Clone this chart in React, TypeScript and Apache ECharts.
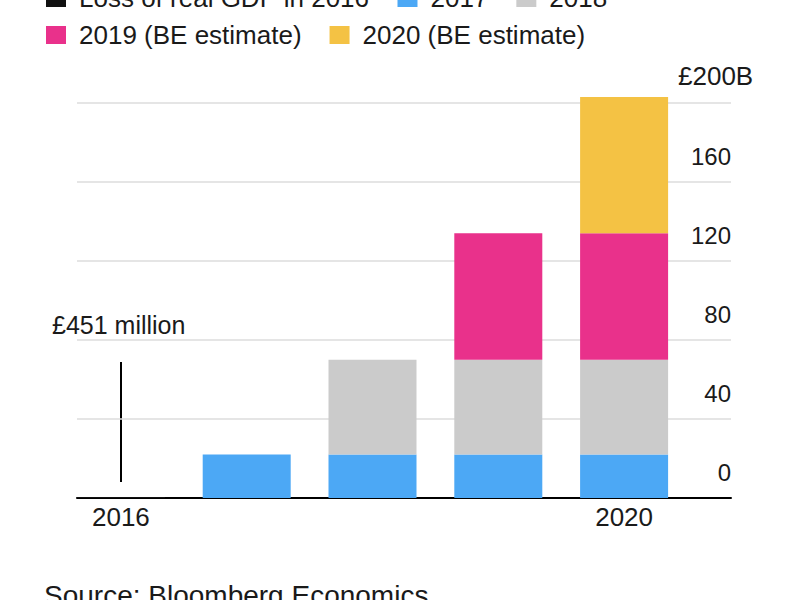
import React, { useEffect, useRef } from "react";
import * as echarts from "echarts";

const categories = ["2016", "2017", "2018", "2019", "2020"];
const shownCategoryLabels = ["2016", "2020"];
const loss2016 = [0.451, null, null, null, null];
const loss2017 = [null, 22, 22, 22, 22];
const loss2018 = [null, null, 48, 48, 48];
const loss2019 = [null, null, null, 64, 64];
const loss2020 = [null, null, null, null, 69];
const seriesNames = [
  "Loss of real GDP in 2016",
  "2017",
  "2018",
  "2019 (BE estimate)",
  "2020 (BE estimate)",
];
const seriesColors = ["#111111", "#4ca8f5", "#cbcbcb", "#e9318b", "#f4c244"];
const yTicks = { min: 0, max: 200, interval: 40 };
const annotationText = "£451 million";
const topTickLabel = "£200B";
const sourceText = "Source: Bloomberg Economics";

const FONT = "'Liberation Sans', Arial, Helvetica, sans-serif";
const TEXT = "#1a1a1a";

// plot geometry: value 0 at y=498, value 200 at y=103
const PLOT_TOP = 103;
const PLOT_BOTTOM = 102;
const PX_PER_UNIT = (600 - PLOT_BOTTOM - PLOT_TOP) / (yTicks.max - yTicks.min);
const BAR_AXIS_MAX = 220;

export default function App() {
  const ref = useRef<HTMLDivElement>(null);
  useEffect(() => {
    if (!ref.current) return;
    const chart = echarts.init(ref.current, null, { renderer: "svg" });
    const dataSets = [loss2016, loss2017, loss2018, loss2019, loss2020];
    const legendText = { fontSize: 26, color: TEXT, fontFamily: FONT, padding: [0, 0, 0, 8] };
    chart.setOption({
      animation: false,
      textStyle: { fontFamily: FONT },
      legend: [
        {
          data: seriesNames.slice(0, 3),
          left: 46,
          top: -15,
          padding: 0,
          itemWidth: 20,
          itemHeight: 18,
          itemGap: 28,
          icon: "rect",
          textStyle: legendText,
        },
        {
          data: seriesNames.slice(3),
          left: 46,
          top: 22,
          padding: 0,
          itemWidth: 20,
          itemHeight: 18,
          itemGap: 28,
          icon: "rect",
          textStyle: legendText,
        },
      ],
      grid: [
        {
          left: 58,
          right: 113,
          top: PLOT_TOP - (BAR_AXIS_MAX - yTicks.max) * PX_PER_UNIT,
          bottom: PLOT_BOTTOM,
        },
        { left: 77, right: 69, top: PLOT_TOP, bottom: PLOT_BOTTOM },
      ],
      xAxis: [
        {
          type: "category",
          gridIndex: 0,
          data: categories,
          axisLine: { show: false },
          axisTick: { show: false },
          axisLabel: {
            interval: 0,
            formatter: (v: string) => (shownCategoryLabels.includes(v) ? v : ""),
            fontSize: 26,
            color: TEXT,
            fontFamily: FONT,
            margin: 6,
          },
        },
        {
          type: "value",
          gridIndex: 1,
          min: 0,
          max: 1,
          axisLine: { show: true, onZero: false, lineStyle: { color: "#000", width: 2 } },
          axisTick: { show: false },
          axisLabel: { show: false },
          splitLine: { show: false },
        },
      ],
      yAxis: [
        {
          type: "value",
          gridIndex: 0,
          min: yTicks.min,
          max: BAR_AXIS_MAX,
          show: false,
          splitLine: { show: false },
        },
        {
          type: "value",
          gridIndex: 1,
          position: "right",
          min: yTicks.min,
          max: yTicks.max,
          interval: yTicks.interval,
          axisLine: { show: false },
          axisTick: { show: false },
          splitLine: { show: true, lineStyle: { color: "#dcdcdc", width: 1.5 } },
          axisLabel: {
            inside: true,
            margin: 0,
            align: "right",
            verticalAlign: "bottom",
            padding: [0, 0, 14, 0],
            fontSize: 24,
            color: TEXT,
            fontFamily: FONT,
            formatter: (v: number) => (v === yTicks.max ? "" : String(v)),
          },
        },
      ],
      series: dataSets.map((d, i) => ({
        name: seriesNames[i],
        type: "bar",
        stack: "total",
        xAxisIndex: 0,
        yAxisIndex: 0,
        barWidth: 88,
        itemStyle: { color: seriesColors[i] },
        data: d,
      })),
      graphic: [
        {
          type: "text",
          left: 678,
          top: 63,
          style: { text: topTickLabel, fill: TEXT, font: `26px ${FONT}` },
        },
        {
          type: "text",
          left: 52,
          top: 312,
          style: { text: annotationText, fill: TEXT, font: `25px ${FONT}` },
        },
        {
          type: "line",
          shape: { x1: 121, y1: 362, x2: 121, y2: 482 },
          style: { stroke: "#000", lineWidth: 2 },
        },
        {
          type: "text",
          left: 44,
          top: 581,
          style: { text: sourceText, fill: TEXT, font: `28px ${FONT}` },
        },
      ],
    });
    return () => chart.dispose();
  }, []);
  return (
    <div
      ref={ref}
      style={{ position: "fixed", left: 0, top: 0, width: 800, height: 600, background: "#fff" }}
    />
  );
}
